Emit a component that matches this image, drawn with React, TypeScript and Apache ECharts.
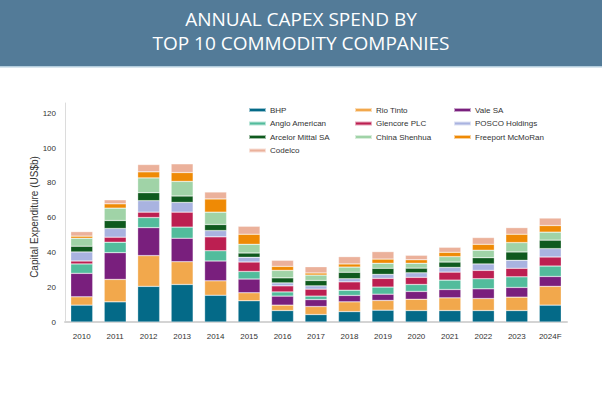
import React, { useEffect, useRef } from "react";
import * as echarts from "echarts";

const years = ["2010", "2011", "2012", "2013", "2014", "2015", "2016", "2017", "2018", "2019", "2020", "2021", "2022", "2023", "2024F"];

const bhp = [9.7, 11.6, 20.5, 21.6, 15.4, 12.2, 6.6, 4.3, 6.0, 6.8, 6.6, 6.6, 6.6, 6.6, 9.7];
const rioTinto = [4.8, 12.9, 17.7, 13.1, 8.3, 4.6, 3.1, 4.6, 5.6, 5.6, 6.5, 7.3, 6.9, 7.7, 10.8];
const vale = [13.5, 15.4, 16.1, 13.5, 11.4, 7.9, 5.2, 4.0, 3.7, 3.6, 4.5, 4.8, 5.6, 5.6, 5.7];
const anglo = [5.4, 6.0, 5.8, 6.4, 5.9, 4.4, 2.4, 2.0, 3.0, 4.1, 4.0, 5.4, 5.8, 6.1, 6.0];
const glencore = [1.7, 2.9, 3.1, 8.6, 8.0, 5.4, 3.5, 4.0, 4.8, 5.0, 4.1, 4.6, 4.8, 4.9, 5.2];
const posco = [5.2, 5.0, 6.6, 5.6, 3.6, 2.7, 1.7, 1.9, 1.8, 2.3, 2.6, 2.7, 3.7, 4.6, 4.8];
const arcelor = [3.3, 4.6, 4.6, 3.7, 3.5, 2.5, 2.9, 3.1, 3.7, 3.5, 2.7, 3.1, 3.6, 4.8, 4.9];
const shenhua = [4.6, 7.1, 8.5, 8.4, 7.1, 5.0, 4.3, 3.1, 3.0, 2.9, 2.8, 3.1, 4.3, 5.4, 4.6];
const freeport = [1.2, 2.5, 3.5, 5.1, 7.6, 5.8, 2.3, 1.2, 1.8, 2.4, 2.0, 2.5, 3.4, 4.8, 3.8];
const codelco = [2.6, 2.3, 4.2, 5.0, 4.0, 4.6, 3.5, 3.6, 4.2, 4.3, 2.6, 2.9, 3.9, 3.8, 4.3];

const seriesDefs = [
  { name: "BHP", data: bhp, color: "#046a88" },
  { name: "Rio Tinto", data: rioTinto, color: "#f2a84c" },
  { name: "Vale SA", data: vale, color: "#791f7d" },
  { name: "Anglo American", data: anglo, color: "#52bc9c" },
  { name: "Glencore PLC", data: glencore, color: "#bc1f51" },
  { name: "POSCO Holdings", data: posco, color: "#a9b3e0" },
  { name: "Arcelor Mittal SA", data: arcelor, color: "#0f5a1e" },
  { name: "China Shenhua", data: shenhua, color: "#a0d3a7" },
  { name: "Freeport McMoRan", data: freeport, color: "#ef8a05" },
  { name: "Codelco", data: codelco, color: "#ebb19b" },
];

const legendCols = [
  { left: 248, names: ["BHP", "Anglo American", "Arcelor Mittal SA", "Codelco"] },
  { left: 354, names: ["Rio Tinto", "Glencore PLC", "China Shenhua"] },
  { left: 453, names: ["Vale SA", "POSCO Holdings", "Freeport McMoRan"] },
];

const titleLines = ["ANNUAL CAPEX SPEND BY", "TOP 10 COMMODITY COMPANIES"];
const yAxisTitle = "Capital Expenditure (US$b)";

export default function App() {
  const ref = useRef<HTMLDivElement>(null);
  useEffect(() => {
    if (!ref.current) return;
    const chart = echarts.init(ref.current, undefined, { renderer: "svg" });
    const font = "'Liberation Sans', Arial, sans-serif";
    const titleGraphics = titleLines.map((t, i) => ({
      type: "text",
      x: 301,
      y: 18.5 + i * 24.5,
      z: 10,
      style: {
        text: t,
        align: "center",
        verticalAlign: "middle",
        fill: "#ffffff",
        fontFamily: "'Open Sans', sans-serif",
        fontSize: 19,
      },
    }));
    chart.setOption({
      animation: false,
      backgroundColor: "#ffffff",
      graphic: [
        { type: "rect", left: 0, top: 0, z: -10, shape: { width: 602, height: 66 }, style: { fill: "#537b98" } },
        { type: "rect", left: 0, top: 66, z: -10, shape: { width: 602, height: 1.5 }, style: { fill: "#b3cddd" } },
        ...titleGraphics,
        {
          type: "text",
          x: 34.5,
          y: 217,
          rotation: Math.PI / 2,
          z: 10,
          style: {
            text: yAxisTitle,
            align: "center",
            verticalAlign: "middle",
            fill: "#333",
            fontFamily: font,
            fontSize: 10,
          },
        },
      ],
      legend: legendCols.map((c) => ({
        orient: "vertical",
        left: c.left,
        top: 105,
        padding: 0,
        itemWidth: 17,
        itemHeight: 4,
        itemGap: 3.5,
        icon: "rect",
        data: c.names,
        textStyle: { fontFamily: font, fontSize: 8, color: "#333", lineHeight: 10, padding: [0, 0, 0, -1] },
      })),
      grid: { left: 65, right: 35, top: 103, bottom: 75 },
      xAxis: {
        type: "category",
        data: years,
        axisTick: { show: false },
        axisLine: { lineStyle: { color: "#d4d4d4", width: 2 } },
        axisLabel: { fontFamily: font, fontSize: 8, color: "#333", margin: 10 },
      },
      yAxis: {
        type: "value",
        min: 0,
        max: 126,
        interval: 20,
        axisLine: { show: true, lineStyle: { color: "#dcdcdc", width: 1 } },
        axisTick: { show: false },
        splitLine: { show: false },
        axisLabel: { fontFamily: font, fontSize: 8, color: "#333", margin: 9, showMaxLabel: false },
      },
      series: seriesDefs.map((s) => ({
        name: s.name,
        type: "bar",
        stack: "total",
        barWidth: 22,
        data: s.data,
        itemStyle: { color: s.color, borderColor: "rgba(255,255,255,0.6)", borderWidth: 0.5 },
      })),
    });
    return () => chart.dispose();
  }, []);
  return (
    <div style={{ position: "fixed", left: 0, top: 0, width: 602, height: 397, background: "#fff" }}>
      <div ref={ref} style={{ width: 602, height: 397 }} />
    </div>
  );
}
